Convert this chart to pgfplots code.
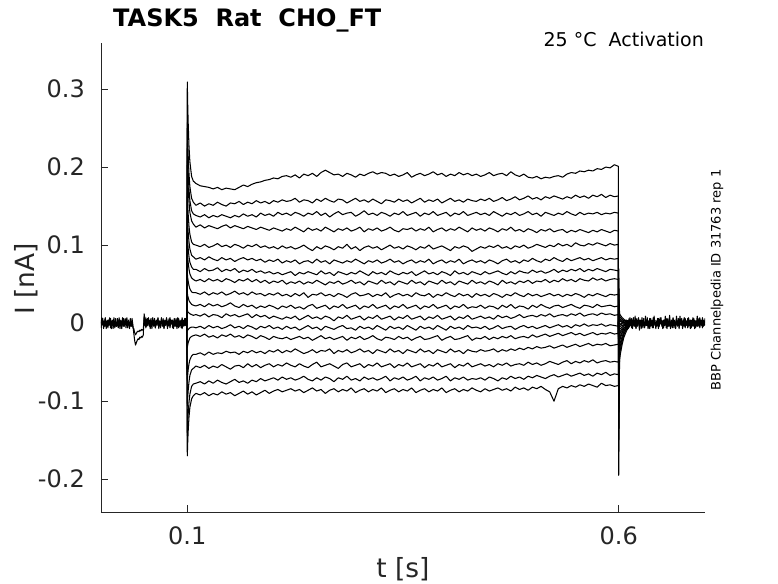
\documentclass[border=0pt]{standalone}
\usepackage{fontspec}
\setmainfont{DejaVu Sans}
\usepackage{pgfplots}
\usepackage{pgfplotstable}
\pgfplotsset{compat=1.18}
\definecolor{axgray}{RGB}{38,38,38}

\pgfplotstableread{
t c1 c2 c3 c4 c5 c6 c7 c8 c9 c10 c11 c12 c13 c14 c15 c16 c17
0.0995 0.002 -0.003 0.001 -0.001 0.003 -0.002 0.000 0.002 -0.004 0.001 -0.001 0.003 -0.002 0.000 0.002 -0.003 0.001
0.1000 0.309 0.257 0.230 0.208 0.167 0.139 0.114 0.092 0.064 0.039 0.017 -0.010 -0.031 -0.074 -0.106 -0.144 -0.170
0.1005 0.280 0.234 0.210 0.190 0.152 0.127 0.104 0.084 0.058 0.035 0.015 -0.009 -0.028 -0.066 -0.095 -0.129 -0.153
0.1010 0.258 0.216 0.194 0.175 0.140 0.117 0.096 0.078 0.054 0.033 0.014 -0.008 -0.025 -0.060 -0.087 -0.117 -0.139
0.1020 0.226 0.191 0.171 0.155 0.124 0.104 0.085 0.069 0.048 0.029 0.013 -0.007 -0.022 -0.052 -0.075 -0.101 -0.120
0.1030 0.207 0.175 0.157 0.142 0.114 0.095 0.078 0.063 0.044 0.027 0.012 -0.006 -0.019 -0.047 -0.067 -0.091 -0.108
0.1050 0.188 0.160 0.144 0.131 0.104 0.087 0.072 0.058 0.040 0.024 0.011 -0.005 -0.017 -0.042 -0.060 -0.081 -0.097
0.1070 0.182 0.155 0.140 0.127 0.101 0.085 0.069 0.056 0.039 0.023 0.010 -0.005 -0.016 -0.040 -0.058 -0.078 -0.093
0.110 0.179 0.151 0.138 0.123 0.100 0.082 0.069 0.054 0.039 0.022 0.011 -0.006 -0.015 -0.040 -0.055 -0.077 -0.090
0.115 0.176 0.154 0.136 0.126 0.098 0.084 0.066 0.056 0.037 0.024 0.009 -0.004 -0.017 -0.038 -0.057 -0.075 -0.092
0.120 0.175 0.150 0.139 0.122 0.101 0.081 0.070 0.053 0.040 0.021 0.012 -0.007 -0.014 -0.041 -0.054 -0.078 -0.089
0.125 0.174 0.153 0.135 0.125 0.097 0.085 0.067 0.057 0.036 0.025 0.008 -0.003 -0.018 -0.037 -0.058 -0.074 -0.093
0.130 0.172 0.151 0.138 0.123 0.099 0.082 0.068 0.054 0.039 0.022 0.011 -0.006 -0.016 -0.040 -0.055 -0.077 -0.090
0.135 0.174 0.155 0.136 0.121 0.102 0.080 0.071 0.056 0.037 0.024 0.010 -0.004 -0.019 -0.038 -0.057 -0.073 -0.092
0.140 0.171 0.152 0.139 0.124 0.098 0.084 0.066 0.053 0.040 0.021 0.007 -0.007 -0.015 -0.039 -0.053 -0.076 -0.088
0.145 0.173 0.150 0.137 0.126 0.100 0.081 0.069 0.057 0.036 0.023 0.012 -0.005 -0.017 -0.036 -0.056 -0.078 -0.091
0.150 0.172 0.154 0.135 0.122 0.097 0.083 0.067 0.055 0.038 0.026 0.009 -0.002 -0.014 -0.038 -0.059 -0.075 -0.089
0.155 0.171 0.153 0.138 0.125 0.101 0.079 0.070 0.052 0.041 0.022 0.011 -0.006 -0.018 -0.037 -0.055 -0.072 -0.093
0.160 0.174 0.156 0.136 0.123 0.099 0.082 0.065 0.056 0.037 0.020 0.008 -0.004 -0.016 -0.040 -0.054 -0.076 -0.090
0.165 0.177 0.152 0.140 0.121 0.096 0.084 0.068 0.054 0.039 0.024 0.010 -0.007 -0.019 -0.036 -0.057 -0.074 -0.087
0.170 0.175 0.155 0.137 0.124 0.100 0.081 0.066 0.057 0.036 0.021 0.012 -0.003 -0.015 -0.038 -0.052 -0.077 -0.091
0.175 0.178 0.153 0.139 0.122 0.098 0.083 0.069 0.053 0.040 0.023 0.007 -0.005 -0.017 -0.035 -0.056 -0.073 -0.088
0.180 0.180 0.157 0.136 0.120 0.101 0.080 0.065 0.056 0.037 0.019 0.011 -0.008 -0.020 -0.038 -0.053 -0.075 -0.092
0.185 0.181 0.154 0.141 0.123 0.097 0.082 0.067 0.052 0.038 0.022 0.008 -0.004 -0.016 -0.036 -0.057 -0.071 -0.089
0.190 0.183 0.156 0.138 0.121 0.099 0.078 0.064 0.055 0.035 0.020 0.010 -0.006 -0.018 -0.039 -0.054 -0.074 -0.086
0.195 0.184 0.153 0.140 0.119 0.096 0.081 0.066 0.051 0.038 0.023 0.006 -0.003 -0.021 -0.035 -0.052 -0.072 -0.090
0.200 0.186 0.157 0.137 0.122 0.098 0.079 0.063 0.054 0.036 0.021 0.009 -0.007 -0.017 -0.037 -0.056 -0.070 -0.087
0.205 0.185 0.155 0.142 0.120 0.095 0.082 0.065 0.052 0.039 0.018 0.007 -0.005 -0.019 -0.034 -0.053 -0.073 -0.085
0.210 0.188 0.158 0.139 0.118 0.099 0.077 0.062 0.055 0.035 0.022 0.005 -0.008 -0.020 -0.038 -0.055 -0.069 -0.088
0.215 0.189 0.156 0.141 0.121 0.096 0.080 0.064 0.050 0.037 0.020 0.008 -0.004 -0.018 -0.035 -0.051 -0.072 -0.086
0.220 0.187 0.157 0.138 0.119 0.098 0.078 0.066 0.053 0.034 0.023 0.006 -0.007 -0.021 -0.037 -0.054 -0.070 -0.084
0.225 0.190 0.160 0.142 0.123 0.095 0.081 0.061 0.051 0.038 0.019 0.009 -0.005 -0.019 -0.033 -0.056 -0.073 -0.087
0.230 0.186 0.155 0.140 0.120 0.097 0.076 0.065 0.054 0.035 0.021 0.004 -0.009 -0.017 -0.036 -0.052 -0.071 -0.085
0.235 0.191 0.158 0.137 0.117 0.100 0.079 0.063 0.050 0.039 0.018 0.007 -0.006 -0.020 -0.039 -0.055 -0.068 -0.089
0.240 0.189 0.157 0.141 0.122 0.096 0.080 0.066 0.053 0.033 0.022 0.010 -0.003 -0.018 -0.037 -0.057 -0.072 -0.086
0.245 0.192 0.154 0.139 0.119 0.093 0.077 0.064 0.051 0.037 0.024 0.006 -0.007 -0.022 -0.034 -0.053 -0.074 -0.083
0.250 0.188 0.159 0.143 0.121 0.098 0.082 0.062 0.055 0.036 0.019 0.008 -0.005 -0.019 -0.038 -0.050 -0.070 -0.087
0.255 0.193 0.156 0.138 0.118 0.095 0.078 0.067 0.052 0.039 0.021 0.005 -0.009 -0.016 -0.035 -0.056 -0.073 -0.085
0.260 0.196 0.160 0.141 0.123 0.099 0.080 0.063 0.049 0.035 0.023 0.009 -0.004 -0.020 -0.036 -0.054 -0.069 -0.090
0.265 0.193 0.157 0.136 0.120 0.097 0.076 0.065 0.053 0.037 0.018 0.007 -0.006 -0.018 -0.033 -0.052 -0.071 -0.086
0.270 0.190 0.155 0.140 0.117 0.094 0.081 0.061 0.051 0.034 0.022 0.003 -0.008 -0.021 -0.039 -0.055 -0.075 -0.084
0.275 0.191 0.159 0.143 0.121 0.098 0.079 0.066 0.054 0.038 0.020 0.008 -0.005 -0.019 -0.035 -0.058 -0.070 -0.088
0.280 0.188 0.158 0.139 0.119 0.096 0.077 0.064 0.050 0.036 0.024 0.006 -0.003 -0.017 -0.037 -0.053 -0.072 -0.085
0.285 0.192 0.154 0.141 0.122 0.101 0.080 0.062 0.052 0.033 0.019 0.010 -0.007 -0.022 -0.034 -0.051 -0.068 -0.087
0.290 0.190 0.157 0.142 0.118 0.095 0.078 0.065 0.055 0.037 0.021 0.005 -0.006 -0.018 -0.038 -0.056 -0.073 -0.083
0.295 0.187 0.160 0.137 0.120 0.098 0.082 0.063 0.051 0.039 0.023 0.007 -0.009 -0.020 -0.036 -0.054 -0.071 -0.089
0.300 0.191 0.156 0.140 0.123 0.093 0.079 0.067 0.053 0.035 0.018 0.009 -0.004 -0.017 -0.033 -0.052 -0.074 -0.086
0.305 0.189 0.158 0.144 0.117 0.097 0.076 0.064 0.049 0.036 0.022 0.004 -0.007 -0.021 -0.037 -0.057 -0.069 -0.084
0.310 0.192 0.155 0.139 0.121 0.099 0.080 0.061 0.054 0.038 0.020 0.008 -0.005 -0.019 -0.035 -0.053 -0.072 -0.088
0.315 0.194 0.159 0.141 0.119 0.096 0.078 0.066 0.052 0.034 0.024 0.006 -0.008 -0.016 -0.039 -0.055 -0.070 -0.085
0.320 0.191 0.156 0.138 0.122 0.098 0.081 0.063 0.050 0.037 0.019 0.010 -0.003 -0.020 -0.034 -0.051 -0.073 -0.087
0.325 0.193 0.153 0.142 0.118 0.094 0.077 0.065 0.055 0.035 0.021 0.005 -0.006 -0.022 -0.036 -0.056 -0.071 -0.083
0.330 0.192 0.158 0.140 0.120 0.097 0.079 0.062 0.051 0.039 0.023 0.007 -0.009 -0.018 -0.038 -0.054 -0.068 -0.089
0.335 0.189 0.157 0.137 0.123 0.100 0.082 0.067 0.053 0.033 0.018 0.009 -0.004 -0.019 -0.033 -0.052 -0.074 -0.086
0.340 0.191 0.155 0.141 0.119 0.096 0.078 0.064 0.049 0.036 0.022 0.004 -0.007 -0.021 -0.037 -0.057 -0.070 -0.084
0.345 0.188 0.159 0.139 0.117 0.098 0.080 0.062 0.054 0.038 0.020 0.008 -0.005 -0.017 -0.035 -0.053 -0.072 -0.088
0.350 0.190 0.156 0.143 0.121 0.095 0.076 0.065 0.052 0.035 0.024 0.006 -0.008 -0.020 -0.039 -0.055 -0.069 -0.085
0.355 0.193 0.158 0.138 0.120 0.099 0.079 0.063 0.050 0.037 0.019 0.010 -0.003 -0.018 -0.034 -0.051 -0.073 -0.087
0.360 0.187 0.154 0.140 0.122 0.097 0.081 0.066 0.055 0.034 0.021 0.005 -0.006 -0.022 -0.036 -0.056 -0.071 -0.083
0.365 0.190 0.157 0.142 0.118 0.094 0.077 0.061 0.051 0.039 0.023 0.007 -0.009 -0.019 -0.038 -0.054 -0.068 -0.089
0.370 0.192 0.160 0.137 0.121 0.098 0.080 0.064 0.053 0.036 0.018 0.009 -0.004 -0.017 -0.033 -0.052 -0.074 -0.086
0.375 0.189 0.155 0.141 0.119 0.096 0.078 0.067 0.049 0.035 0.022 0.004 -0.007 -0.021 -0.037 -0.057 -0.070 -0.084
0.380 0.191 0.158 0.139 0.123 0.100 0.082 0.063 0.054 0.038 0.020 0.008 -0.005 -0.020 -0.035 -0.053 -0.072 -0.088
0.385 0.194 0.156 0.143 0.117 0.095 0.076 0.065 0.052 0.033 0.024 0.006 -0.008 -0.018 -0.039 -0.055 -0.069 -0.085
0.390 0.190 0.159 0.138 0.120 0.097 0.079 0.062 0.050 0.037 0.019 0.010 -0.003 -0.016 -0.034 -0.051 -0.073 -0.087
0.395 0.192 0.154 0.140 0.122 0.099 0.081 0.066 0.055 0.035 0.021 0.005 -0.006 -0.022 -0.036 -0.056 -0.071 -0.083
0.400 0.188 0.157 0.142 0.118 0.096 0.077 0.064 0.051 0.039 0.023 0.007 -0.009 -0.019 -0.038 -0.054 -0.068 -0.089
0.405 0.191 0.160 0.137 0.121 0.093 0.080 0.061 0.053 0.036 0.018 0.009 -0.004 -0.017 -0.033 -0.052 -0.074 -0.086
0.410 0.189 0.156 0.141 0.119 0.098 0.078 0.067 0.049 0.034 0.022 0.004 -0.007 -0.021 -0.037 -0.057 -0.070 -0.084
0.415 0.193 0.158 0.139 0.123 0.096 0.082 0.063 0.054 0.038 0.020 0.008 -0.005 -0.020 -0.035 -0.053 -0.072 -0.088
0.420 0.190 0.155 0.143 0.120 0.099 0.076 0.065 0.052 0.035 0.024 0.006 -0.008 -0.018 -0.039 -0.055 -0.069 -0.085
0.425 0.192 0.159 0.138 0.117 0.097 0.079 0.062 0.050 0.037 0.019 0.010 -0.003 -0.016 -0.034 -0.051 -0.073 -0.087
0.430 0.189 0.157 0.140 0.122 0.092 0.081 0.066 0.055 0.033 0.021 0.005 -0.006 -0.022 -0.036 -0.056 -0.071 -0.083
0.435 0.191 0.156 0.142 0.119 0.095 0.078 0.064 0.051 0.038 0.020 0.007 -0.005 -0.019 -0.037 -0.054 -0.072 -0.086
0.440 0.188 0.159 0.139 0.121 0.098 0.080 0.062 0.053 0.035 0.023 0.009 -0.007 -0.020 -0.034 -0.052 -0.070 -0.088
0.445 0.190 0.157 0.141 0.118 0.096 0.077 0.066 0.050 0.037 0.019 0.006 -0.004 -0.017 -0.036 -0.055 -0.073 -0.084
0.450 0.193 0.160 0.138 0.122 0.099 0.081 0.063 0.054 0.034 0.022 0.008 -0.008 -0.021 -0.035 -0.053 -0.069 -0.087
0.455 0.189 0.156 0.143 0.120 0.097 0.079 0.065 0.052 0.038 0.021 0.005 -0.006 -0.018 -0.033 -0.056 -0.071 -0.085
0.460 0.191 0.158 0.140 0.117 0.100 0.076 0.067 0.049 0.036 0.018 0.010 -0.003 -0.020 -0.037 -0.052 -0.074 -0.083
0.465 0.192 0.161 0.137 0.121 0.096 0.080 0.064 0.055 0.033 0.023 0.007 -0.007 -0.017 -0.034 -0.054 -0.070 -0.086
0.470 0.189 0.157 0.141 0.119 0.098 0.082 0.062 0.051 0.037 0.020 0.009 -0.005 -0.019 -0.036 -0.051 -0.072 -0.084
0.475 0.194 0.159 0.139 0.123 0.095 0.078 0.066 0.053 0.035 0.024 0.006 -0.004 -0.016 -0.033 -0.055 -0.068 -0.087
0.480 0.190 0.162 0.142 0.118 0.099 0.080 0.063 0.050 0.039 0.019 0.008 -0.008 -0.020 -0.035 -0.053 -0.071 -0.082
0.485 0.188 0.158 0.138 0.120 0.097 0.077 0.067 0.054 0.036 0.022 0.011 -0.005 -0.018 -0.032 -0.052 -0.069 -0.085
0.490 0.191 0.160 0.140 0.117 0.100 0.081 0.065 0.052 0.034 0.021 0.007 -0.003 -0.017 -0.034 -0.054 -0.072 -0.083
0.495 0.187 0.163 0.143 0.121 0.096 0.079 0.064 0.055 0.038 0.018 0.009 -0.006 -0.019 -0.031 -0.050 -0.068 -0.086
0.500 0.186 0.159 0.139 0.119 0.098 0.083 0.068 0.051 0.035 0.023 0.010 -0.004 -0.015 -0.033 -0.053 -0.070 -0.082
0.505 0.188 0.161 0.141 0.116 0.101 0.080 0.065 0.054 0.037 0.020 0.008 -0.007 -0.018 -0.030 -0.051 -0.067 -0.084
0.510 0.185 0.158 0.137 0.120 0.099 0.078 0.067 0.053 0.034 0.024 0.011 -0.005 -0.016 -0.032 -0.054 -0.069 -0.081
0.515 0.187 0.162 0.142 0.118 0.097 0.082 0.064 0.056 0.036 0.021 0.009 -0.003 -0.014 -0.031 -0.052 -0.071 -0.085
0.520 0.186 0.160 0.140 0.121 0.100 0.080 0.066 0.052 0.038 0.019 0.012 -0.006 -0.017 -0.029 -0.049 -0.068 -0.088
0.525 0.188 0.163 0.138 0.117 0.098 0.084 0.069 0.055 0.035 0.022 0.008 -0.004 -0.015 -0.032 -0.051 -0.066 -0.100
0.530 0.189 0.161 0.141 0.119 0.102 0.081 0.065 0.053 0.037 0.023 0.010 -0.002 -0.013 -0.030 -0.053 -0.069 -0.084
0.535 0.187 0.159 0.139 0.120 0.099 0.079 0.068 0.057 0.034 0.020 0.011 -0.005 -0.016 -0.028 -0.050 -0.067 -0.081
0.540 0.191 0.162 0.143 0.116 0.101 0.083 0.066 0.054 0.037 0.022 0.009 -0.003 -0.014 -0.031 -0.048 -0.065 -0.083
0.545 0.193 0.160 0.140 0.119 0.098 0.080 0.069 0.056 0.035 0.024 0.012 -0.006 -0.012 -0.029 -0.052 -0.068 -0.080
0.550 0.192 0.164 0.138 0.117 0.103 0.082 0.067 0.053 0.038 0.021 0.010 -0.002 -0.015 -0.027 -0.049 -0.066 -0.082
0.555 0.195 0.161 0.142 0.120 0.100 0.084 0.070 0.057 0.036 0.019 0.013 -0.004 -0.013 -0.030 -0.051 -0.064 -0.079
0.560 0.194 0.163 0.139 0.118 0.099 0.081 0.066 0.055 0.033 0.023 0.009 -0.001 -0.016 -0.028 -0.048 -0.067 -0.081
0.565 0.196 0.160 0.141 0.116 0.102 0.083 0.069 0.054 0.037 0.022 0.011 -0.004 -0.014 -0.026 -0.050 -0.065 -0.078
0.570 0.195 0.164 0.140 0.119 0.100 0.080 0.067 0.058 0.035 0.020 0.012 -0.002 -0.012 -0.029 -0.047 -0.068 -0.080
0.575 0.198 0.162 0.142 0.117 0.103 0.082 0.070 0.055 0.038 0.024 0.010 -0.003 -0.015 -0.027 -0.051 -0.064 -0.082
0.580 0.197 0.165 0.139 0.120 0.101 0.084 0.068 0.057 0.036 0.021 0.013 -0.001 -0.013 -0.028 -0.049 -0.066 -0.077
0.585 0.200 0.161 0.141 0.118 0.099 0.081 0.066 0.054 0.034 0.022 0.011 -0.004 -0.014 -0.026 -0.048 -0.063 -0.080
0.590 0.199 0.164 0.140 0.116 0.102 0.083 0.069 0.056 0.037 0.023 0.012 -0.002 -0.012 -0.029 -0.050 -0.067 -0.079
0.595 0.203 0.162 0.142 0.119 0.100 0.082 0.068 0.057 0.036 0.021 0.010 -0.003 -0.014 -0.028 -0.049 -0.065 -0.081
0.5995 0.201 0.163 0.141 0.118 0.101 0.083 0.067 0.056 0.037 0.022 0.011 -0.004 -0.013 -0.027 -0.050 -0.066 -0.080
0.6000 -0.195 -0.165 -0.150 -0.135 -0.110 -0.092 -0.076 -0.060 -0.042 -0.026 -0.012 0.004 0.015 0.030 0.044 0.058 0.070
0.6005 -0.094 -0.079 -0.071 -0.062 -0.050 -0.041 -0.033 -0.026 -0.019 -0.012 -0.006 0.000 0.005 0.011 0.016 0.022 0.027
0.6010 -0.047 -0.040 -0.034 -0.029 -0.023 -0.019 -0.015 -0.012 -0.008 -0.005 -0.003 -0.001 0.002 0.004 0.006 0.009 0.012
0.6020 -0.039 -0.033 -0.028 -0.024 -0.019 -0.016 -0.012 -0.010 -0.007 -0.004 -0.002 -0.001 0.002 0.003 0.005 0.007 0.010
0.6040 -0.027 -0.023 -0.020 -0.017 -0.013 -0.011 -0.009 -0.007 -0.005 -0.003 -0.001 0.000 0.001 0.002 0.003 0.005 0.007
0.6060 -0.018 -0.015 -0.013 -0.011 -0.009 -0.007 -0.006 -0.004 -0.003 -0.002 -0.001 0.000 0.001 0.001 0.002 0.003 0.005
0.6090 -0.010 -0.006 -0.008 -0.003 -0.006 -0.002 -0.005 0.001 -0.003 0.001 -0.002 0.003 -0.001 0.002 -0.001 0.004 0.002
0.6120 -0.004 0.002 -0.005 0.001 -0.002 -0.003 0.002 -0.002 0.004 -0.001 0.000 0.003 -0.003 0.001 0.002 -0.002 0.001
0.6160 0.003 -0.002 0.001 -0.004 0.002 0.000 -0.003 0.004 -0.001 0.002 -0.003 0.001 0.003 -0.002 0.000 0.004 -0.001
}\traces

\pgfplotstableread{
t b1 b2
0.000 0.004 -0.006
0.001 -0.003 0.007
0.002 0.006 -0.001
0.003 -0.007 0.003
0.004 0.001 -0.004
0.005 0.007 0.006
0.006 -0.004 -0.007
0.007 0.003 0.001
0.008 -0.006 0.004
0.009 0.004 -0.003
0.010 -0.001 0.007
0.011 0.006 -0.006
0.012 -0.007 0.000
0.013 0.003 0.004
0.014 -0.003 -0.007
0.015 0.007 0.003
0.016 -0.006 -0.001
0.017 0.001 0.006
0.018 -0.004 -0.004
0.019 0.006 0.001
0.020 -0.001 -0.006
0.021 0.004 0.007
0.022 -0.007 -0.003
0.023 0.003 0.004
0.024 -0.003 -0.007
0.025 0.007 0.000
0.026 -0.004 0.006
0.027 0.000 -0.004
0.028 0.006 0.003
0.029 -0.006 -0.001
0.030 0.003 0.007
0.031 -0.001 -0.006
0.032 0.004 0.001
0.033 -0.007 -0.003
0.034 0.001 0.006
0.035 -0.004 -0.004
0.036 0.006 0.003
0.037 -0.003 -0.006
0.038 -0.013 -0.007
0.039 -0.022 -0.012
0.040 -0.028 -0.015
0.041 -0.025 -0.013
0.042 -0.022 -0.011
0.043 -0.020 -0.010
0.044 -0.021 -0.011
0.045 -0.018 -0.009
0.046 -0.019 -0.010
0.047 -0.017 -0.008
0.048 -0.018 -0.009
0.049 -0.015 -0.008
0.050 0.012 0.006
0.051 0.004 -0.003
0.052 -0.006 0.007
0.053 0.003 -0.004
0.054 -0.003 0.006
0.055 0.007 -0.001
0.056 -0.004 0.004
0.057 0.001 -0.007
0.058 0.006 0.003
0.059 -0.007 -0.003
0.060 0.004 0.007
0.061 -0.001 -0.004
0.062 0.006 0.001
0.063 -0.006 -0.006
0.064 0.003 0.004
0.065 -0.003 -0.001
0.066 0.007 0.006
0.067 -0.004 -0.007
0.068 0.001 0.003
0.069 -0.006 -0.003
0.070 0.004 0.007
0.071 -0.001 -0.004
0.072 0.006 0.001
0.073 -0.007 -0.006
0.074 0.003 0.004
0.075 -0.003 -0.001
0.076 0.007 0.006
0.077 -0.004 -0.007
0.078 0.000 0.003
0.079 0.006 -0.004
0.080 -0.006 0.007
0.081 0.003 -0.001
0.082 -0.001 0.004
0.083 0.004 -0.006
0.084 -0.007 0.001
0.085 0.001 0.006
0.086 -0.004 -0.003
0.087 0.006 0.004
0.088 -0.003 -0.007
0.089 0.007 0.000
0.090 -0.006 0.006
0.091 0.003 -0.004
0.092 -0.001 0.003
0.093 0.004 -0.006
0.094 -0.007 0.007
0.095 0.001 -0.001
0.096 -0.004 0.004
0.097 0.006 -0.003
0.098 -0.003 0.006
0.099 0.004 -0.004
}\bandpre

\pgfplotstableread{
t b1 b2
0.610 -0.006 0.004
0.611 0.003 -0.007
0.612 -0.004 0.006
0.613 0.007 -0.003
0.614 -0.001 0.004
0.615 0.006 -0.006
0.616 -0.007 0.001
0.617 0.003 0.007
0.618 -0.003 -0.004
0.619 0.009 0.003
0.620 -0.006 -0.007
0.621 0.001 0.006
0.622 -0.004 -0.001
0.623 0.007 0.004
0.624 -0.003 -0.009
0.625 0.004 0.003
0.626 -0.007 -0.003
0.627 0.003 0.007
0.628 -0.001 -0.006
0.629 0.006 0.001
0.630 -0.006 -0.004
0.631 0.001 0.009
0.632 -0.003 -0.003
0.633 0.007 0.004
0.634 -0.004 -0.007
0.635 0.003 0.000
0.636 -0.007 0.006
0.637 0.006 -0.004
0.638 -0.001 0.003
0.639 0.004 -0.006
0.640 -0.006 0.007
0.641 0.009 -0.001
0.642 -0.003 0.004
0.643 0.001 -0.007
0.644 -0.004 0.003
0.645 0.006 -0.003
0.646 -0.007 0.006
0.647 0.003 -0.004
0.648 -0.001 0.007
0.649 0.007 -0.001
0.650 -0.004 0.003
0.651 0.003 -0.007
0.652 -0.006 0.004
0.653 0.004 -0.003
0.654 -0.001 0.009
0.655 0.006 -0.006
0.656 -0.007 0.001
0.657 0.003 0.006
0.658 -0.003 -0.004
0.659 0.010 0.003
0.660 -0.004 -0.007
0.661 0.001 0.004
0.662 -0.006 -0.001
0.663 0.007 0.006
0.664 -0.003 -0.006
0.665 0.004 0.001
0.666 -0.007 -0.003
0.667 0.003 0.009
0.668 -0.001 -0.004
0.669 0.006 0.003
0.670 -0.004 -0.007
0.671 0.009 0.004
0.672 -0.003 -0.001
0.673 0.004 0.006
0.674 -0.007 -0.004
0.675 0.001 0.003
0.676 -0.004 0.007
0.677 0.006 -0.006
0.678 -0.001 0.001
0.679 0.003 -0.003
0.680 -0.006 0.006
0.681 0.007 -0.004
0.682 -0.003 0.003
0.683 0.004 -0.007
0.684 -0.006 0.004
0.685 0.001 -0.001
0.686 -0.004 0.007
0.687 0.006 -0.003
0.688 -0.007 0.004
0.689 0.003 -0.006
0.690 -0.001 0.001
0.691 0.009 -0.004
0.692 -0.004 0.006
0.693 0.003 -0.003
0.694 -0.006 0.007
0.695 0.004 -0.001
0.696 -0.003 0.003
0.697 0.007 -0.006
0.698 -0.004 0.004
0.699 0.001 -0.003
0.700 -0.003 0.006
}\bandpost

\begin{document}
\begin{tikzpicture}
\useasboundingbox (-101pt,-71pt) rectangle (677pt,512pt);
\begin{axis}[
  at={(0pt,0pt)}, anchor=south west,
  scale only axis, width=604pt, height=469pt,
  xmin=0, xmax=0.7, ymin=-0.242, ymax=0.359,
  axis x line=bottom, axis y line=left,
  axis line style={-, draw=axgray, line width=0.8pt},
  tick align=inside,
  major tick length=7pt,
  tick style={draw=axgray, line width=0.8pt},
  xtick={0.1,0.6}, xticklabels={0.1,0.6},
  ytick={-0.2,-0.1,0,0.1,0.2,0.3}, yticklabels={-0.2,-0.1,0,0.1,0.2,0.3},
  minor tick num=0,
  tick label style={font=\fontsize{24}{24}\selectfont, text=axgray, inner sep=0pt},
  yticklabel style={anchor=east, xshift=-16pt},
  xticklabel style={anchor=north, yshift=-14pt},
  trace/.style={black, line width=1.05pt, mark=none, line join=round},
]
\addplot[trace] table[x=t, y=b1] {\bandpre};
\addplot[trace] table[x=t, y=b2] {\bandpre};
\addplot[trace] table[x=t, y=b1] {\bandpost};
\addplot[trace] table[x=t, y=b2] {\bandpost};
\pgfplotsinvokeforeach{1,...,17}{
  \addplot[trace] table[x=t, y=c#1] {\traces};
}
\end{axis}
\node[anchor=base west, inner sep=0pt, font=\fontsize{24}{24}\selectfont\bfseries] at (12pt,485.5pt) {TASK5\ \ Rat\ \ CHO\_FT};
\node[anchor=base east, inner sep=0pt, font=\fontsize{19}{19}\selectfont] at (603pt,465pt) {25 °C\ \ Activation};
\node[rotate=90, inner sep=0pt, font=\fontsize{13}{13}\selectfont] at (616pt,232pt) {BBP Channelpedia ID 31763 rep 1};
\node[rotate=90, anchor=south, inner sep=0pt, font=\fontsize{26.4}{26.4}\selectfont, text=axgray] at (-63pt,233pt) {I [nA]};
\node[anchor=north, inner sep=0pt, font=\fontsize{26.4}{26.4}\selectfont, text=axgray] at (302pt,-45pt) {t [s]};
\end{tikzpicture}
\end{document}
